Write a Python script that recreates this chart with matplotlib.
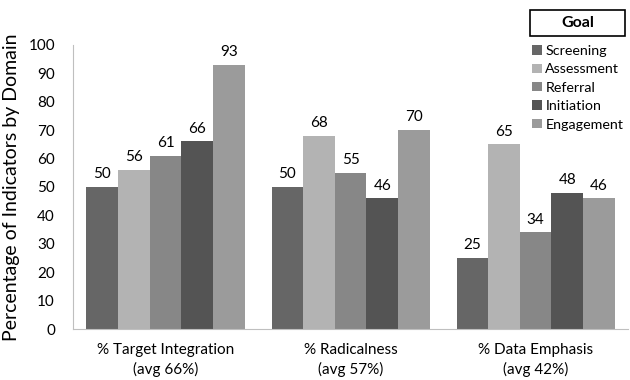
import matplotlib.pyplot as plt
import numpy as np
from matplotlib.patches import Rectangle

plt.rcParams['font.family'] = ['Lato', 'DejaVu Sans']

domains = ['% Target Integration\n(avg 66%)', '% Radicalness\n(avg 57%)', '% Data Emphasis\n(avg 42%)']
goals = ['Screening', 'Assessment', 'Referral', 'Initiation', 'Engagement']
values = {
    'Screening':  [50, 50, 25],
    'Assessment': [56, 68, 65],
    'Referral':   [61, 55, 34],
    'Initiation': [66, 46, 48],
    'Engagement': [93, 70, 46],
}
colors = ['#666666', '#b3b3b3', '#878787', '#545454', '#9b9b9b']

fig = plt.figure(figsize=(6.3, 3.8), dpi=100)
ax = fig.add_axes([0.116, 0.134, 0.881, 0.748])

x = np.arange(len(domains))
w = 0.855 / len(goals)
for i, g in enumerate(goals):
    pos = x - 0.855 / 2 + w * (i + 0.5)
    bars = ax.bar(pos, values[g], width=w, color=colors[i], label=g)
    for b, v in zip(bars, values[g]):
        ax.text(b.get_x() + b.get_width() / 2, v + 2, str(v),
                ha='center', va='bottom', fontsize=11)

ax.set_xlim(-0.5, 2.5)
ax.set_ylim(0, 100)
ax.set_yticks(range(0, 101, 10))
ax.set_xticks(x)
ax.set_xticklabels(domains, fontsize=11, linespacing=1.45)
ax.tick_params(axis='y', labelsize=11, length=0, pad=13)
ax.tick_params(axis='x', length=0, pad=10)
ax.set_ylabel('Percentage of Indicators by Domain', fontsize=14, labelpad=6)
for s in ['top', 'right']:
    ax.spines[s].set_visible(False)
ax.spines['left'].set_color('#bfbfbf')
ax.spines['bottom'].set_color('#bfbfbf')

# legend with a boxed title
fig.patches.append(Rectangle((0.842, 0.906), 0.150, 0.068, transform=fig.transFigure,
                             fc='white', ec='black', lw=1.2))
fig.text(0.917, 0.940, 'Goal', ha='center', va='center', fontsize=11.5, fontweight='bold')
fig.legend(loc='upper left', bbox_to_anchor=(0.836, 0.897), frameon=False,
           handlelength=0.65, handleheight=0.65, handletextpad=0.25,
           labelspacing=0.45, fontsize=10.3, borderaxespad=0)

fig.savefig('out.png', dpi=100)
plt.close(fig)
